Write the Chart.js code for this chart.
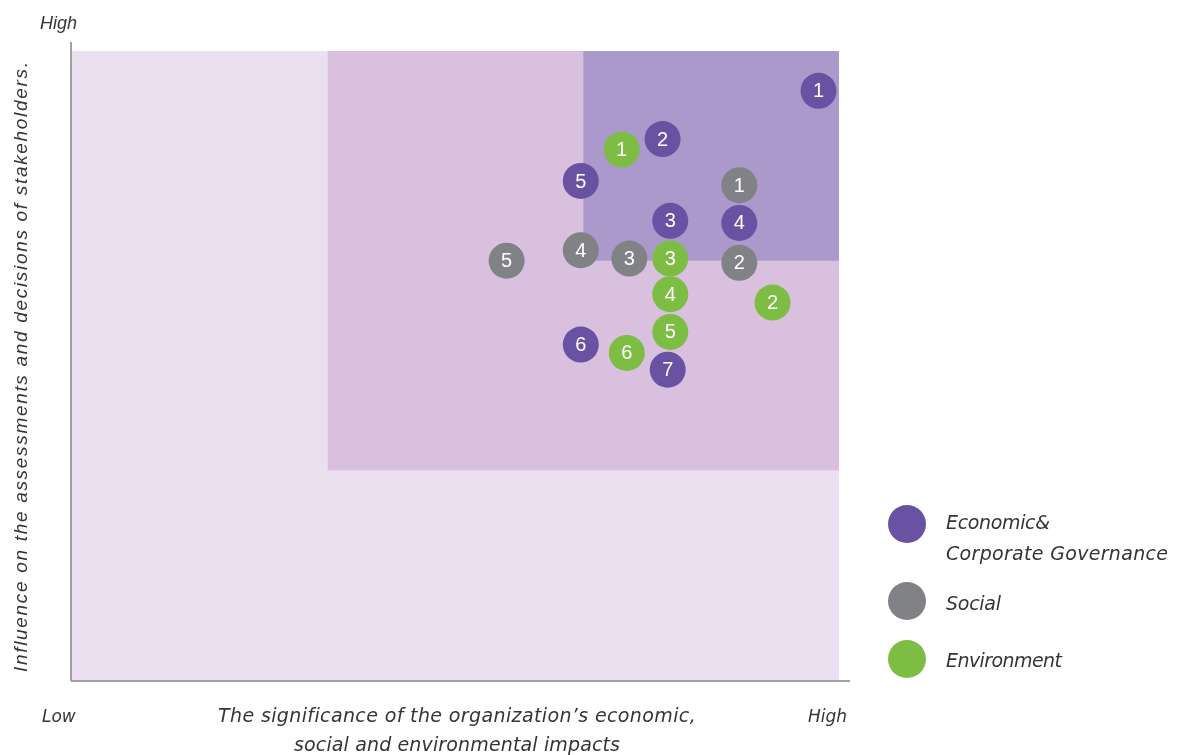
<!DOCTYPE html>
<html>
<head>
<meta charset="utf-8">
<title>Materiality matrix</title>
<script src="https://cdn.jsdelivr.net/npm/chart.js@4.4.1/dist/chart.umd.min.js"></script>
<style>
  html, body { margin: 0; padding: 0; background: #ffffff; }
  #wrap { position: relative; width: 1186px; height: 755px; }
</style>
</head>
<body>
<div id="wrap"><canvas id="matrix" width="1186" height="755"></canvas></div>
<script>
// Axis range (Low .. High split into three bands)
const axisMin = 0;
const axisMax = 3;

// Nested priority zones: lower-left corner of each band, reaching up to High/High
const zoneStart = [0, 1, 2];
const zoneColors = ['#ebe0f0', '#d9c0df', '#ab99cc'];

// Economic & Corporate Governance topics
const econLabels = ['1', '2', '3', '4', '5', '6', '7'];
const econX = [2.92, 2.31, 2.34, 2.61, 1.99, 1.99, 2.33];
const econY = [2.81, 2.58, 2.19, 2.18, 2.38, 1.60, 1.48];

// Social topics
const socLabels = ['1', '2', '3', '4', '5'];
const socX = [2.61, 2.61, 2.18, 1.99, 1.70];
const socY = [2.36, 1.99, 2.01, 2.05, 2.00];

// Environment topics
const envLabels = ['1', '2', '3', '4', '5', '6'];
const envX = [2.15, 2.74, 2.34, 2.34, 2.34, 2.17];
const envY = [2.53, 1.80, 2.01, 1.84, 1.66, 1.56];

const seriesNames = ['Economic&\nCorporate Governance', 'Social', 'Environment'];
const seriesColors = ['#6a52a3', '#818285', '#7dbd43'];

const xTitle = ["The significance of the organization\u2019s economic,", 'social and environmental impacts'];
const yTitle = 'Influence on the assessments and decisions of stakeholders.';
const lowLabel = 'Low';
const highLabel = 'High';

function toPoints(xs, ys) { return xs.map((x, i) => ({ x: x, y: ys[i] })); }

const HAND = 'italic 19px "DejaVu Sans", sans-serif';
const HAND_SMALL = 'italic 17px "DejaVu Sans", sans-serif';
const OBLIQUE = 'italic 19px "Liberation Sans", Arial, sans-serif';
const OBLIQUE_SMALL = 'italic 18px "Liberation Sans", Arial, sans-serif';
const TEXT = '#353535';

// Draws text left-aligned at x, stretched by letter spacing to span the given width
function drawSpread(ctx, text, x, y, width) {
  ctx.save();
  ctx.letterSpacing = '0px';
  const w = ctx.measureText(text).width;
  const n = text.length;
  const ls = n > 1 ? (width - w) / (n - 1) : 0;
  ctx.letterSpacing = ls + 'px';
  ctx.textAlign = 'left';
  ctx.fillText(text, x, y);
  ctx.restore();
}

const zonesPlugin = {
  id: 'zones',
  beforeDatasetsDraw(chart) {
    const { ctx, scales: { x, y } } = chart;
    ctx.save();
    zoneStart.forEach((s, i) => {
      const left = x.getPixelForValue(s);
      const right = x.getPixelForValue(axisMax);
      const top = y.getPixelForValue(axisMax);
      const bottom = y.getPixelForValue(s);
      ctx.fillStyle = zoneColors[i];
      ctx.fillRect(left, top, right - left, bottom - top);
    });
    // axis strokes
    const x0 = x.getPixelForValue(axisMin);
    const y0 = y.getPixelForValue(axisMin);
    const yTop = y.getPixelForValue(axisMax);
    const xEnd = x.getPixelForValue(axisMax);
    ctx.strokeStyle = '#a0a0a0';
    ctx.lineWidth = 2;
    ctx.beginPath();
    ctx.moveTo(x0 - 1, yTop - 9);
    ctx.lineTo(x0 - 1, y0 + 1);
    ctx.moveTo(x0 - 1, y0 + 1);
    ctx.lineTo(xEnd + 11, y0 + 1);
    ctx.stroke();
    ctx.restore();
  }
};

const labelsPlugin = {
  id: 'pointLabels',
  afterDatasetsDraw(chart) {
    const { ctx } = chart;
    const sets = [econLabels, socLabels, envLabels];
    ctx.save();
    ctx.fillStyle = '#ffffff';
    ctx.font = '20px "Liberation Sans", Arial, sans-serif';
    ctx.textAlign = 'center';
    ctx.textBaseline = 'middle';
    chart.data.datasets.forEach((ds, di) => {
      const meta = chart.getDatasetMeta(di);
      meta.data.forEach((pt, i) => {
        ctx.fillText(sets[di][i], pt.x, pt.y + 1);
      });
    });
    ctx.restore();
  }
};

const textPlugin = {
  id: 'frameText',
  afterDraw(chart) {
    const { ctx, scales: { x, y } } = chart;
    const x0 = x.getPixelForValue(axisMin);
    const xEnd = x.getPixelForValue(axisMax);
    const yTop = y.getPixelForValue(axisMax);
    const y0 = y.getPixelForValue(axisMin);
    ctx.save();
    ctx.fillStyle = TEXT;
    ctx.textBaseline = 'alphabetic';
    ctx.textAlign = 'left';

    // High / Low markers at the ends of both axes
    ctx.font = OBLIQUE_SMALL;
    ctx.fillText(highLabel, x0 - 32, yTop - 22);
    ctx.font = HAND_SMALL;
    ctx.fillText(lowLabel, x0 - 30, y0 + 42);
    ctx.fillText(highLabel, xEnd - 31, y0 + 42);

    // x title, two centred lines
    ctx.font = HAND;
    drawSpread(ctx, xTitle[0], 218, y0 + 42, 478);
    drawSpread(ctx, xTitle[1], 294, y0 + 71, 326);

    // y title, rotated
    ctx.save();
    ctx.translate(27, 672);
    ctx.rotate(-Math.PI / 2);
    ctx.font = OBLIQUE;
    drawSpread(ctx, yTitle, 0, 0, 610);
    ctx.restore();

    // legend
    const legendY = [524, 601, 659];
    seriesNames.forEach((name, i) => {
      ctx.beginPath();
      ctx.arc(907, legendY[i], 19, 0, Math.PI * 2);
      ctx.fillStyle = seriesColors[i];
      ctx.fill();
    });
    ctx.fillStyle = TEXT;
    ctx.font = HAND;
    drawSpread(ctx, 'Economic&', 946, 529, 104);
    drawSpread(ctx, 'Corporate Governance', 946, 560, 222);
    drawSpread(ctx, 'Social', 946, 610, 55);
    drawSpread(ctx, 'Environment', 946, 667, 116);
    ctx.restore();
  }
};

const pointStyle = (color) => ({
  backgroundColor: color,
  borderColor: color,
  borderWidth: 0,
  pointRadius: 18,
  pointHoverRadius: 18
});

new Chart(document.getElementById('matrix'), {
  type: 'scatter',
  data: {
    datasets: [
      Object.assign({ label: seriesNames[0], data: toPoints(econX, econY) }, pointStyle(seriesColors[0])),
      Object.assign({ label: seriesNames[1], data: toPoints(socX, socY) }, pointStyle(seriesColors[1])),
      Object.assign({ label: seriesNames[2], data: toPoints(envX, envY) }, pointStyle(seriesColors[2]))
    ]
  },
  options: {
    responsive: false,
    animation: false,
    layout: { padding: { left: 72, right: 347, top: 51, bottom: 75 } },
    scales: {
      x: { type: 'linear', min: axisMin, max: axisMax, display: false },
      y: { type: 'linear', min: axisMin, max: axisMax, display: false }
    },
    plugins: {
      legend: { display: false },
      tooltip: { enabled: false }
    }
  },
  plugins: [zonesPlugin, labelsPlugin, textPlugin]
});
</script>
</body>
</html>
